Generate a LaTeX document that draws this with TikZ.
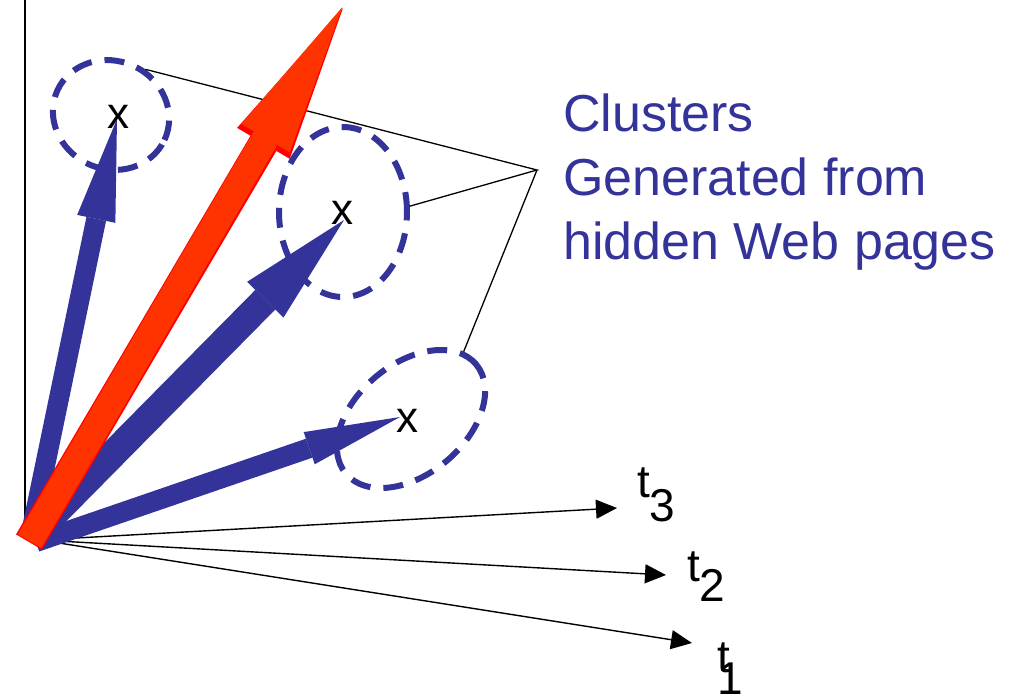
\documentclass[tikz,border=0pt]{standalone}
\usepackage{fontspec}
\setmainfont{Liberation Sans}
\usetikzlibrary{arrows.meta,shapes.geometric}
\definecolor{cblue}{RGB}{51,51,153}
\definecolor{cred}{RGB}{255,51,0}
\begin{document}
\begin{tikzpicture}[x=1pt,y=-1pt,
  cluster/.style={draw=cblue, ellipse, dash pattern=on 20pt off 13pt, line width=6pt, inner sep=0pt},
  fatblue/.style={draw=cblue, line cap=butt},
  thinarrow/.style={line width=1.4pt, -{Triangle[width=19pt,length=21pt]}},
  leader/.style={line width=1.3pt},
  xmark/.style={font=\fontsize{44}{44}\selectfont, inner sep=0pt},
  tlabel/.style={font=\fontsize{46}{46}\selectfont, inner sep=0pt, anchor=base west},
  ]
\useasboundingbox (0,0) rectangle (1018,694);
% named points
\coordinate (axtop) at (25,0);
\coordinate (axbot) at (25,532);
\coordinate (o) at (30,538);
\coordinate (o3) at (36,542);
\coordinate (ored) at (29,542);
\coordinate (othin) at (40,540);
\coordinate (tip1) at (117,119);
\coordinate (tip2) at (344,220);
\coordinate (tip3) at (400,417);
\coordinate (tipr) at (343,8);
\coordinate (apex) at (537,170);
\coordinate (e1) at (617,508);
\coordinate (e2) at (666,575);
\coordinate (e3) at (692,643);
% vertical axis
\draw[line width=1.5pt] (axtop) -- (axbot);
% term axes
\draw[thinarrow] (othin) -- (e1);
\draw[thinarrow] (othin) -- (e2);
\draw[thinarrow] (othin) -- (e3);
\node[tlabel] (t3) at (637,497) {t\raisebox{-24pt}{3}};
\node[tlabel] (t2) at (687,581) {t\raisebox{-20pt}{2}};
\node[tlabel] (t1) at (717,672) {t\kern-.27em\raisebox{-22pt}{1}};
% clusters
\node[cluster, minimum width=118pt, minimum height=108pt, rotate=-25] (c1) at (111,115) {};
\node[cluster, minimum width=128pt, minimum height=170pt] (c2) at (343,212) {};
\node[cluster, minimum width=170pt, minimum height=110pt, rotate=40] (c3) at (411,419) {};
% document vectors
\draw[fatblue, line width=20pt, -{Triangle[width=39pt,length=102pt,line width=0pt]}] (o) -- (tip1);
\draw[fatblue, line width=28pt, -{Triangle[width=51pt,length=112pt,line width=0pt]}] (o) -- (tip2);
\draw[fatblue, line width=20pt, -{Triangle[width=34pt,length=96pt,line width=0pt]}] (o3) -- (tip3);
\node[xmark] (x1) at (118,117) {x};
\node[xmark] (x2) at (342,213) {x};
\node[xmark] (x3) at (407,421) {x};
% leaders
\draw[leader] (c1.78) -- (apex) -- (c2.5);
\draw[leader] (c3.12) -- (apex);
% query vector
\draw[draw=red, line width=30pt, line cap=butt, -{Triangle[width=61pt,length=157pt,line width=0pt]}] (ored) -- (tipr);
\draw[draw=cred, line width=27pt, line cap=butt, shorten <=1pt, -{Triangle[width=56pt,length=152pt,line width=0pt]}] (ored) -- ([shift={(-0.6pt,1pt)}]tipr);
% caption
\node[anchor=north west, align=left, inner sep=0pt, text=cblue, font=\fontsize{52}{64}\selectfont] (cap) at (563,94) {Clusters\\Generated from\\hidden Web pages};
\end{tikzpicture}
\end{document}
